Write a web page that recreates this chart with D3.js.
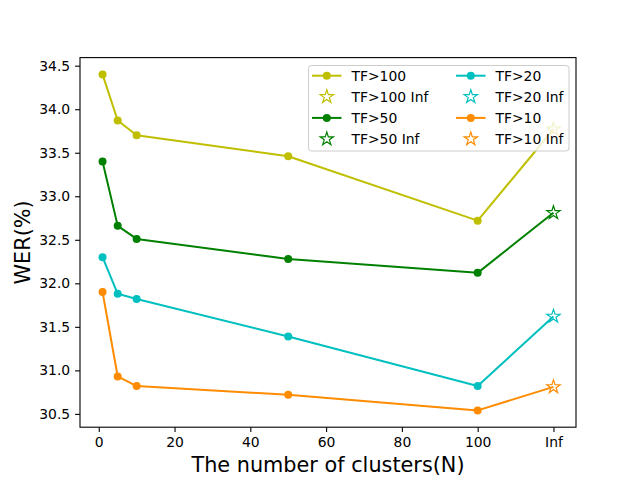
<!DOCTYPE html>
<html>
<head>
<meta charset="utf-8">
<script src="https://cdn.jsdelivr.net/npm/d3@7"></script>
<style>
  body { margin: 0; background: #fff; }
  svg { font-family: "DejaVu Sans", sans-serif; }
</style>
</head>
<body>
<svg id="svg"></svg>
<script>
// cluster counts, the last one stands for "Inf"
const clusters = [1, 5, 10, 50, 100, 120]
const xTicks = [0, 20, 40, 60, 80, 100, 120]
const xTickLabels = ["0", "20", "40", "60", "80", "100", "Inf"]
const yTicks = [30.5, 31.0, 31.5, 32.0, 32.5, 33.0, 33.5, 34.0, 34.5]

const tf100 = [34.40, 33.87, 33.70, 33.46, 32.72, 33.77]
const tf50 = [33.40, 32.66, 32.51, 32.28, 32.12, 32.81]
const tf20 = [32.30, 31.88, 31.82, 31.39, 30.82, 31.62]
const tf10 = [31.90, 30.93, 30.82, 30.72, 30.54, 30.81]

const seriesNames = ["TF>100", "TF>50", "TF>20", "TF>10"]
const seriesValues = [tf100, tf50, tf20, tf10]
const seriesColors = ["#bfbf00", "#008000", "#00bfbf", "#ff8c00"]

const width = 640, height = 480
const margin = { left: 80, right: 64, top: 57.6, bottom: 52.8 }

const svg = d3.select("#svg").attr("width", width).attr("height", height)

const x = d3.scaleLinear()
  .domain([-4.95, 125.95])
  .range([margin.left, width - margin.right])

const y = d3.scaleLinear()
  .domain([30.347, 34.593])
  .range([height - margin.bottom, margin.top])

const plot = svg.append("g")

const line = d3.line()
  .x((d, i) => x(clusters[i]))
  .y((d) => y(d))

const star = d3.symbol().type(d3.symbolStar).size(55)

seriesValues.forEach((vals, k) => {
  const color = seriesColors[k]
  plot.append("path")
    .attr("d", line(vals))
    .attr("fill", "none")
    .attr("stroke", color)
    .attr("stroke-width", 2)
    .attr("stroke-linejoin", "round")

  plot.selectAll("circle.s" + k)
    .data(vals.slice(0, 5))
    .enter()
    .append("circle")
    .attr("cx", (d, i) => x(clusters[i]))
    .attr("cy", (d) => y(d))
    .attr("r", 4)
    .attr("fill", color)

  plot.append("path")
    .attr("d", star())
    .attr("transform", `translate(${x(clusters[5])}, ${y(vals[5])})`)
    .attr("fill", "none")
    .attr("stroke", color)
    .attr("stroke-width", 1.2)
})

// axes
const xAxis = d3.axisBottom(x)
  .tickValues(xTicks)
  .tickFormat((d, i) => xTickLabels[i])
  .tickSize(4.9)
  .tickPadding(4.9)

const yAxis = d3.axisLeft(y)
  .tickValues(yTicks)
  .tickFormat(d3.format(".1f"))
  .tickSize(4.9)
  .tickPadding(4.9)

const gx = svg.append("g")
  .attr("transform", `translate(0, ${height - margin.bottom})`)
  .call(xAxis)

const gy = svg.append("g")
  .attr("transform", `translate(${margin.left}, 0)`)
  .call(yAxis)

for (const g of [gx, gy]) {
  g.select(".domain").remove()
  g.selectAll(".tick line").attr("stroke", "#000").attr("stroke-width", 1.1)
  g.selectAll(".tick text")
    .attr("fill", "#000")
    .style("font-size", "13.9px")
    .style("font-family", "DejaVu Sans")
}

svg.append("rect")
  .attr("x", margin.left)
  .attr("y", margin.top)
  .attr("width", width - margin.left - margin.right)
  .attr("height", height - margin.top - margin.bottom)
  .attr("fill", "none")
  .attr("stroke", "#000")
  .attr("stroke-width", 1.1)

svg.append("text")
  .attr("x", (margin.left + width - margin.right) / 2)
  .attr("y", 472)
  .attr("text-anchor", "middle")
  .style("font-size", "20.8px")
  .text("The number of clusters(N)")

svg.append("text")
  .attr("transform", `translate(30, ${(margin.top + height - margin.bottom) / 2}) rotate(-90)`)
  .attr("text-anchor", "middle")
  .style("font-size", "20.8px")
  .text("WER(%)")

// legend, two columns
const legend = svg.append("g")
legend.append("rect")
  .attr("x", 308.5)
  .attr("y", 65.5)
  .attr("width", 260.5)
  .attr("height", 85.5)
  .attr("rx", 3)
  .attr("fill", "#fff")
  .attr("fill-opacity", 0.8)
  .attr("stroke", "#cccccc")
  .attr("stroke-width", 1)

const entries = []
seriesNames.forEach((name, k) => {
  entries.push({ label: name, color: seriesColors[k], kind: "line" })
  entries.push({ label: name + " Inf", color: seriesColors[k], kind: "star" })
})

const item = legend.selectAll("g.item")
  .data(entries)
  .enter()
  .append("g")
  .classed("item", true)
  .attr("transform", (d, i) => {
    const col = Math.floor(i / 4)
    const row = i % 4
    return `translate(${312 + col * 144}, ${75.7 + row * 21.1})`
  })

item.filter((d) => d.kind === "line")
  .append("line")
  .attr("x1", 0).attr("x2", 29.5)
  .attr("stroke", (d) => d.color)
  .attr("stroke-width", 2)

item.filter((d) => d.kind === "line")
  .append("circle")
  .attr("cx", 14.8)
  .attr("r", 4)
  .attr("fill", (d) => d.color)

item.filter((d) => d.kind === "star")
  .append("path")
  .attr("d", star())
  .attr("transform", "translate(14.8, 0)")
  .attr("fill", "none")
  .attr("stroke", (d) => d.color)
  .attr("stroke-width", 1.2)

item.append("text")
  .attr("x", 39.5)
  .attr("dy", "0.36em")
  .style("font-size", "13.9px")
  .text((d) => d.label)
</script>
</body>
</html>
